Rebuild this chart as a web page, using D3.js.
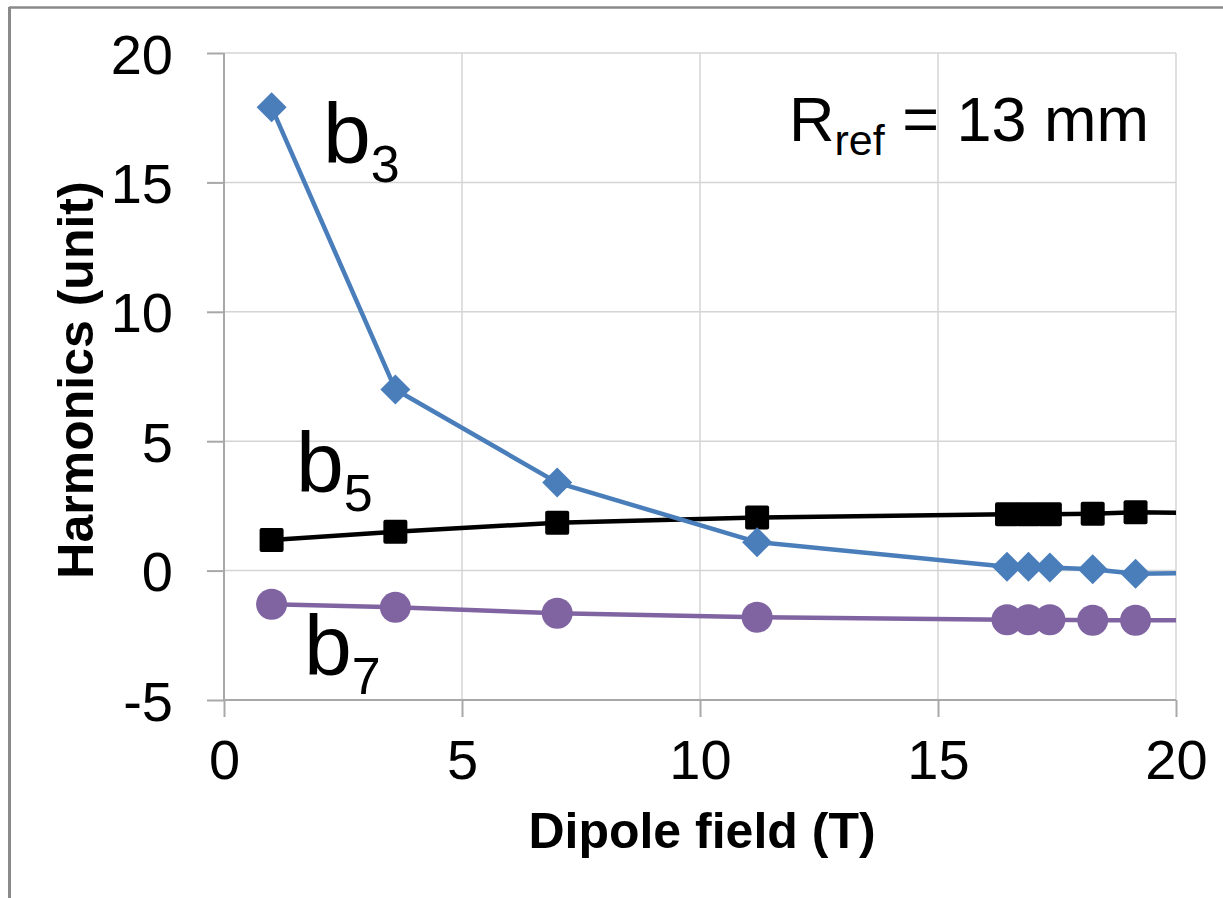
<!DOCTYPE html>
<html>
<head>
<meta charset="utf-8">
<script src="https://cdn.jsdelivr.net/npm/d3@7"></script>
<style>
  html, body { margin: 0; padding: 0; background: #fff; }
  svg { display: block; font-family: "Liberation Sans", Arial, sans-serif; }
</style>
</head>
<body>
<svg id="chart" width="1223" height="898"></svg>
<script>
// ---- data ----
const field = [1.0, 3.6, 7.0, 11.2, 16.45, 16.9, 17.35, 18.25, 19.15, 21.0];
const b3 = [17.9, 7.0, 3.4, 1.1, 0.15, 0.15, 0.12, 0.05, -0.12, -0.08];
const b5 = [1.18, 1.5, 1.85, 2.05, 2.18, 2.18, 2.18, 2.2, 2.25, 2.22];
const b7 = [-1.3, -1.42, -1.65, -1.8, -1.9, -1.9, -1.9, -1.92, -1.92, -1.92];
const xTicks = [0, 5, 10, 15, 20];
const yTicks = [-5, 0, 5, 10, 15, 20];
const xTitle = "Dipole field (T)";
const yTitle = "Harmonics (unit)";

const svg = d3.select("#chart");
const L = 224, R = 1176, T = 53, B = 700;
const x = d3.scaleLinear().domain([0, 20]).range([L, R]);
const y = d3.scaleLinear().domain([-5, 20]).range([B, T]);

// outer frame (top and left edges visible)
svg.append("line").attr("x1", 9).attr("x2", 1223).attr("y1", 7.5).attr("y2", 7.5)
  .attr("stroke", "#8a8a8a").attr("stroke-width", 2.5);
svg.append("line").attr("x1", 9.5).attr("x2", 9.5).attr("y1", 7).attr("y2", 898)
  .attr("stroke", "#8a8a8a").attr("stroke-width", 3);

// gridlines
svg.append("g").selectAll("line").data(yTicks.filter(d => d !== -5)).join("line")
  .attr("x1", L).attr("x2", R).attr("y1", d => y(d)).attr("y2", d => y(d))
  .attr("stroke", "#d4d4d4").attr("stroke-width", 1.5);
svg.append("g").selectAll("line").data(xTicks.filter(d => d !== 0)).join("line")
  .attr("x1", d => x(d)).attr("x2", d => x(d)).attr("y1", T).attr("y2", B)
  .attr("stroke", "#d4d4d4").attr("stroke-width", 1.5);

// axes
const fmt = d => String(d);
const xAxis = d3.axisBottom(x).tickValues(xTicks).tickSize(17).tickPadding(22).tickFormat(fmt);
const yAxis = d3.axisLeft(y).tickValues(yTicks).tickSize(17).tickPadding(34).tickFormat(fmt);
const gx = svg.append("g").attr("transform", `translate(0,${B})`).call(xAxis);
const gy = svg.append("g").attr("transform", `translate(${L},0)`).call(yAxis);
[gx, gy].forEach(g => {
  g.select(".domain").attr("stroke", "#a8a8a8").attr("stroke-width", 2);
  g.selectAll(".tick line").attr("stroke", "#a8a8a8").attr("stroke-width", 2);
  g.selectAll(".tick text").attr("fill", "#000").attr("font-size", 56)
    .attr("font-family", "Liberation Sans, Arial, sans-serif");
});
gx.select(".domain").attr("d", `M${L},0H${R}`);
gy.select(".domain").attr("d", `M0,${B}V${T}`);
gx.selectAll(".tick text").attr("dy", "0.71em");
gy.selectAll(".tick text").attr("dy", "0.36em");

// axis titles
svg.append("text").attr("x", 702).attr("y", 848).attr("text-anchor", "middle")
  .attr("font-size", 50).attr("font-weight", "bold").text(xTitle);
svg.append("text").attr("transform", `translate(93,380) rotate(-90)`)
  .attr("text-anchor", "middle").attr("font-size", 50).attr("font-weight", "bold").text(yTitle);

// clip to plot area
svg.append("clipPath").attr("id", "plotclip").append("rect")
  .attr("x", L).attr("y", T - 40).attr("width", R - L).attr("height", B - T + 80);
const plot = svg.append("g").attr("clip-path", "url(#plotclip)");

const series = [
  { vals: b5, color: "#000000", marker: "square" },
  { vals: b3, color: "#4a7ebb", marker: "diamond" },
  { vals: b7, color: "#8064a2", marker: "circle" }
];
const line = d3.line().x(d => x(d[0])).y(d => y(d[1]));

series.forEach(s => {
  const pts = field.map((f, i) => [f, s.vals[i]]);
  plot.append("path").attr("d", line(pts)).attr("fill", "none")
    .attr("stroke", s.color).attr("stroke-width", 4.5).attr("stroke-linejoin", "round");
  const g = plot.append("g").attr("fill", s.color);
  if (s.marker === "circle") {
    g.selectAll("circle").data(pts).join("circle")
      .attr("cx", d => x(d[0])).attr("cy", d => y(d[1])).attr("r", 15.5);
  } else if (s.marker === "square") {
    g.selectAll("rect").data(pts).join("rect")
      .attr("x", d => x(d[0]) - 12).attr("y", d => y(d[1]) - 12)
      .attr("width", 24).attr("height", 24).attr("rx", 2);
  } else {
    g.selectAll("path").data(pts).join("path")
      .attr("d", d => {
        const cx = x(d[0]), cy = y(d[1]), r = 15;
        return `M${cx},${cy - r}L${cx + r},${cy}L${cx},${cy + r}L${cx - r},${cy}Z`;
      });
  }
});

// series labels
const labels = [
  { main: "b", sub: "3", x: 323, y: 163 },
  { main: "b", sub: "5", x: 296, y: 492 },
  { main: "b", sub: "7", x: 304, y: 675 }
];
labels.forEach(l => {
  const t = svg.append("text").attr("x", l.x).attr("y", l.y).attr("font-size", 86).attr("fill", "#000");
  t.append("tspan").text(l.main);
  t.append("tspan").attr("font-size", 52).attr("dy", 19).text(l.sub);
});

// R_ref annotation
const rt = svg.append("text").attr("x", 789).attr("y", 141).attr("font-size", 63).attr("fill", "#000");
rt.append("tspan").text("R");
rt.append("tspan").attr("font-size", 43).attr("dy", 14).text("ref");
rt.append("tspan").attr("dy", -14).text(" = 13 mm");
</script>
</body>
</html>
